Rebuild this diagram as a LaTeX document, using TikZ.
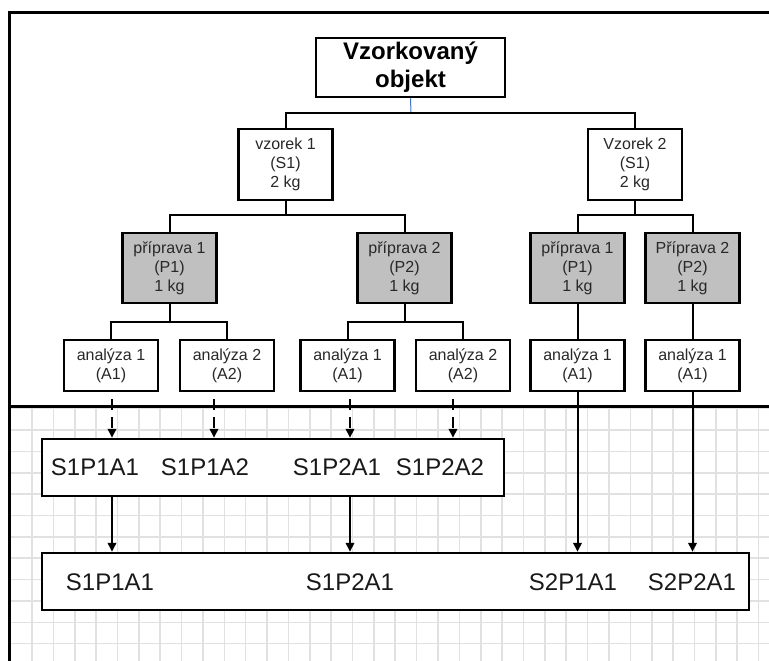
\documentclass[tikz,border=0pt]{standalone}
\usepackage{fontspec}
\setmainfont{Liberation Sans}
\usetikzlibrary{arrows.meta,calc}
\definecolor{txtgray}{RGB}{40,40,40}
\definecolor{boxgray}{RGB}{192,192,192}
\definecolor{gridgray}{RGB}{225,225,225}
\definecolor{linkblue}{RGB}{68,114,196}
\tikzset{
  smallbox/.style={draw=black, line width=2.5pt, fill=white, minimum width=94pt, align=center, inner sep=0pt, text=txtgray, font=\fontsize{16}{19}\selectfont},
  sbox/.style={smallbox, minimum height=71pt},
  pbox/.style={smallbox, fill=boxgray, minimum height=70pt},
  abox/.style={smallbox, minimum height=51pt},
  titlebox/.style={draw=black, line width=2.5pt, fill=white, minimum width=189pt, minimum height=59pt, align=center, inner sep=0pt, font=\fontsize{24}{28}\selectfont\bfseries},
  bigbox/.style={draw=black, line width=2.5pt, fill=white, minimum height=57pt, inner sep=0pt},
  code/.style={font=\fontsize{24}{28}\selectfont, text=black!90, inner sep=0pt},
  conn/.style={draw=black, line width=2pt},
  arr/.style={conn, -{Triangle[length=9pt,width=8.5pt]}},
  dasharr/.style={arr, dash pattern=on 11pt off 7pt},
  gridline/.style={draw=gridgray, line width=1.6pt},
  frameline/.style={draw=black, line width=3pt},
}
\begin{document}
\begin{tikzpicture}[x=1pt,y=-1pt]
\useasboundingbox (0,0) rectangle (769,661);
\fill[white] (0,0) rectangle (769,661);
% grid
\foreach \i in {0,...,35} \draw[gridline] ({10.6+\i*21.37},406) -- ({10.6+\i*21.37},661);
\foreach \j in {0,...,11} \draw[gridline] (9,{408.6+\j*21.37}) -- (769,{408.6+\j*21.37});
% frame
\draw[frameline] (769,13) -- (9,13) -- (9,661);
\draw[frameline] (9,406) -- (769,406);
% nodes
\node[titlebox] (obj) at (410.5,67.5) {Vzorkovaný\\objekt};
\node[sbox] (s1) at (285.5,164.5) {vzorek 1\\(S1)\\2 kg};
\node[sbox] (s2) at (635,164.5) {Vzorek 2\\(S1)\\2 kg};
\node[pbox] (s1p1) at (169.5,268) {příprava 1\\(P1)\\1 kg};
\node[pbox] (s1p2) at (404.5,268) {příprava 2\\(P2)\\1 kg};
\node[pbox] (s2p1) at (577.5,268) {příprava 1\\(P1)\\1 kg};
\node[pbox] (s2p2) at (692.5,268) {Příprava 2\\(P2)\\1 kg};
\node[abox] (a111) at (111,365.5) {analýza 1\\(A1)};
\node[abox] (a112) at (227,365.5) {analýza 2\\(A2)};
\node[abox] (a121) at (347.5,365.5) {analýza 1\\(A1)};
\node[abox] (a122) at (463,365.5) {analýza 2\\(A2)};
\node[abox] (a211) at (577.5,365.5) {analýza 1\\(A1)};
\node[abox] (a221) at (692.5,365.5) {analýza 1\\(A1)};
\node[bigbox, minimum width=462pt] (b1) at (273,467.5) {};
\node[bigbox, minimum width=707pt] (b2) at (395.5,581.5) {};
\node[code] (t1) at (95,467) {S1P1A1};
\node[code] (t2) at (205,467) {S1P1A2};
\node[code] (t3) at (337,467) {S1P2A1};
\node[code] (t4) at (440,467) {S1P2A2};
\node[code] (u1) at (110,582) {S1P1A1};
\node[code] (u2) at (350,582) {S1P2A1};
\node[code] (u3) at (573,582) {S2P1A1};
\node[code] (u4) at (692,582) {S2P2A1};
% tree connectors
\draw[draw=linkblue, line width=1pt] (obj.south) -- (411,113);
\draw[conn] (s1.north) |- (411,113) -| (s2.north);
\draw[conn] (s1p1.north) |- (285.5,215) -| (s1p2.north);
\draw[conn] (s1.south) -- (285.5,215);
\draw[conn] (s2p1.north) |- (635,215) -| (s2p2.north);
\draw[conn] (s2.south) -- (635,215);
\draw[conn] (a111.north) |- (169.5,322) -| (a112.north);
\draw[conn] (s1p1.south) -- (169.5,322);
\draw[conn] (a121.north) |- (404.5,322) -| (a122.north);
\draw[conn] (s1p2.south) -- (404.5,322);
\draw[conn] (s2p1.south) -- (a211.north);
\draw[conn] (s2p2.south) -- (a221.north);
% arrows
\draw[dasharr] (112,399) -- (b1.north -| 112,0);
\draw[dasharr] (214,399) -- (b1.north -| 214,0);
\draw[dasharr] (350,399) -- (b1.north -| 350,0);
\draw[dasharr] (453,399) -- (b1.north -| 453,0);
\draw[arr] (b1.south -| 112,0) -- (b2.north -| 112,0);
\draw[arr] (b1.south -| 350,0) -- (b2.north -| 350,0);
\draw[arr] (a211.south) -- (b2.north -| a211.south);
\draw[arr] (a221.south) -- (b2.north -| a221.south);
\end{tikzpicture}
\end{document}
